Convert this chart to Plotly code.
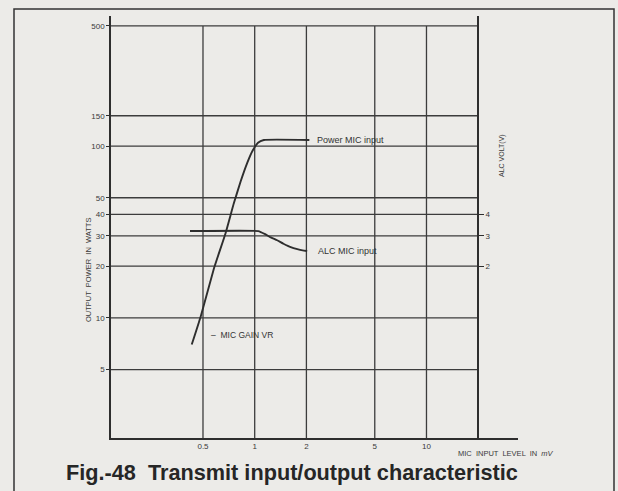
import math
import plotly.graph_objects as go

# Output power against MIC input level (mV -> W)
power_mic_mv = [0.43, 0.485, 0.58, 0.676, 0.756, 0.827, 0.906, 0.97, 1.045, 1.13, 2.08]
power_watts = [7.0, 10.2, 19.5, 31.0, 46.4, 61.9, 80.0, 93.5, 104.5, 108.4, 108.4]

# ALC voltage against MIC input level (mV -> V)
alc_mic_mv = [0.42, 1.05, 1.15, 1.24, 1.35, 1.47, 1.62, 1.77, 1.9, 2.02]
alc_volts = [3.2, 3.2, 3.07, 2.94, 2.83, 2.70, 2.58, 2.51, 2.47, 2.45]

# Axis ticks
mic_ticks = [0.5, 1, 2, 5, 10]
mic_tick_text = ["0.5", "1", "2", "5", "10"]
power_ticks = [5, 10, 20, 30, 40, 50, 100, 150, 500]
alc_ticks = [2, 3, 4]

# Chart extents
mic_min, mic_max, mic_grid_end = 0.1457, 34.1, 20
watt_min, watt_max, watt_grid_top = 2.0, 571, 500
alc_scale = 10  # 1 V of ALC sits on the 10 W line

INK = "#2e2e2e"
GRID = "#3c3c3c"
PAPER = "#ecebe8"
FONT = "Arial, Liberation Sans, sans-serif"

fig = go.Figure()

# grid: vertical lines at the MIC ticks, horizontal lines at the power ticks
gx, gy = [], []
for v in mic_ticks:
    gx += [v, v, None]
    gy += [watt_min, watt_grid_top, None]
for w in power_ticks:
    gx += [mic_min, mic_grid_end, None]
    gy += [w, w, None]
fig.add_trace(go.Scatter(x=gx, y=gy, mode="lines", line=dict(color=GRID, width=1.3),
                         hoverinfo="skip", showlegend=False))

fig.add_trace(go.Scatter(x=power_mic_mv, y=power_watts, mode="lines",
                         line=dict(color=INK, width=1.9, shape="spline", smoothing=0.4),
                         name="Power MIC input", showlegend=False))
fig.add_trace(go.Scatter(x=alc_mic_mv, y=alc_volts, yaxis="y2", mode="lines",
                         line=dict(color=INK, width=1.9, shape="spline", smoothing=0.3),
                         name="ALC MIC input", showlegend=False))

lx0, lx1 = math.log10(mic_min), math.log10(mic_max)
alc_axis_pos = (math.log10(mic_grid_end) - lx0) / (lx1 - lx0)

axis_font = dict(family=FONT, size=8, color="#3a3a3a")
fig.update_layout(
    width=618, height=491,
    margin=dict(l=111, r=100, t=16, b=53),
    paper_bgcolor=PAPER, plot_bgcolor=PAPER,
    font=dict(family=FONT, color=INK),
    xaxis=dict(type="log", range=[lx0, lx1], showgrid=False, zeroline=False,
               tickvals=mic_ticks, ticktext=mic_tick_text, ticks="",
               showline=True, linecolor=INK, linewidth=1.5, tickfont=axis_font),
    yaxis=dict(type="log", range=[math.log10(watt_min), math.log10(watt_max)],
               showgrid=False, zeroline=False, tickvals=power_ticks,
               ticktext=[str(t) for t in power_ticks], ticks="outside", ticklen=3,
               tickcolor=INK, showline=True, linecolor=INK, linewidth=1.5,
               tickfont=axis_font),
    yaxis2=dict(type="log", overlaying="y", anchor="free", position=alc_axis_pos,
                side="right",
                range=[math.log10(watt_min / alc_scale), math.log10(watt_max / alc_scale)],
                showgrid=False, zeroline=False, tickvals=alc_ticks,
                ticktext=[str(t) for t in alc_ticks], ticks="outside", ticklen=5,
                tickcolor=INK, showline=True, linecolor=INK, linewidth=1.5,
                tickfont=axis_font),
)

def px_x(px):
    return (px - 111) / 407.0

def px_y(py):
    return (438 - py) / 422.0

label_font = dict(family=FONT, size=9, color="#333333")
annotations = [
    dict(x=math.log10(power_mic_mv[-1] * 1.08), y=math.log10(power_watts[-1]),
         xref="x", yref="y", text="Power MIC input", showarrow=False,
         xanchor="left", yanchor="middle", font=label_font),
    dict(x=math.log10(alc_mic_mv[-1] * 1.13), y=math.log10(alc_volts[-1]),
         xref="x", yref="y2", text="ALC MIC input", showarrow=False,
         xanchor="left", yanchor="middle", font=label_font),
    dict(x=math.log10(0.54), y=math.log10(8.0), xref="x", yref="y",
         text="–  MIC GAIN VR", showarrow=False, xanchor="left", yanchor="middle",
         font=dict(family=FONT, size=8.5, color="#333333")),
    dict(x=px_x(88), y=px_y(270), xref="paper", yref="paper",
         text="OUTPUT  POWER  IN  WATTS", textangle=-90, showarrow=False,
         xanchor="center", yanchor="middle", font=dict(family=FONT, size=7.5, color="#3a3a3a")),
    dict(x=px_x(502), y=px_y(156), xref="paper", yref="paper",
         text="ALC VOLT(V)", textangle=-90, showarrow=False,
         xanchor="center", yanchor="middle", font=dict(family=FONT, size=7, color="#3a3a3a")),
    dict(x=px_x(506), y=px_y(453), xref="paper", yref="paper",
         text="MIC  INPUT  LEVEL  IN  <i>mV</i>", showarrow=False, borderpad=0,
         xanchor="center", yanchor="middle", font=dict(family=FONT, size=7.5, color="#3a3a3a")),
    dict(x=px_x(65), y=px_y(472), xref="paper", yref="paper",
         text="<b>Fig.-48  Transmit input/output characteristic</b>", showarrow=False,
         borderpad=0, xanchor="left", yanchor="middle",
         font=dict(family=FONT, size=21.7, color="#262626")),
]
fig.update_layout(annotations=annotations)

# page frame
fig.add_shape(type="rect", xref="paper", yref="paper",
              x0=px_x(14), x1=px_x(614), y0=px_y(505), y1=px_y(9),
              line=dict(color="#333333", width=1.5), fillcolor="rgba(0,0,0,0)", layer="below")

fig.write_html("out.html")
